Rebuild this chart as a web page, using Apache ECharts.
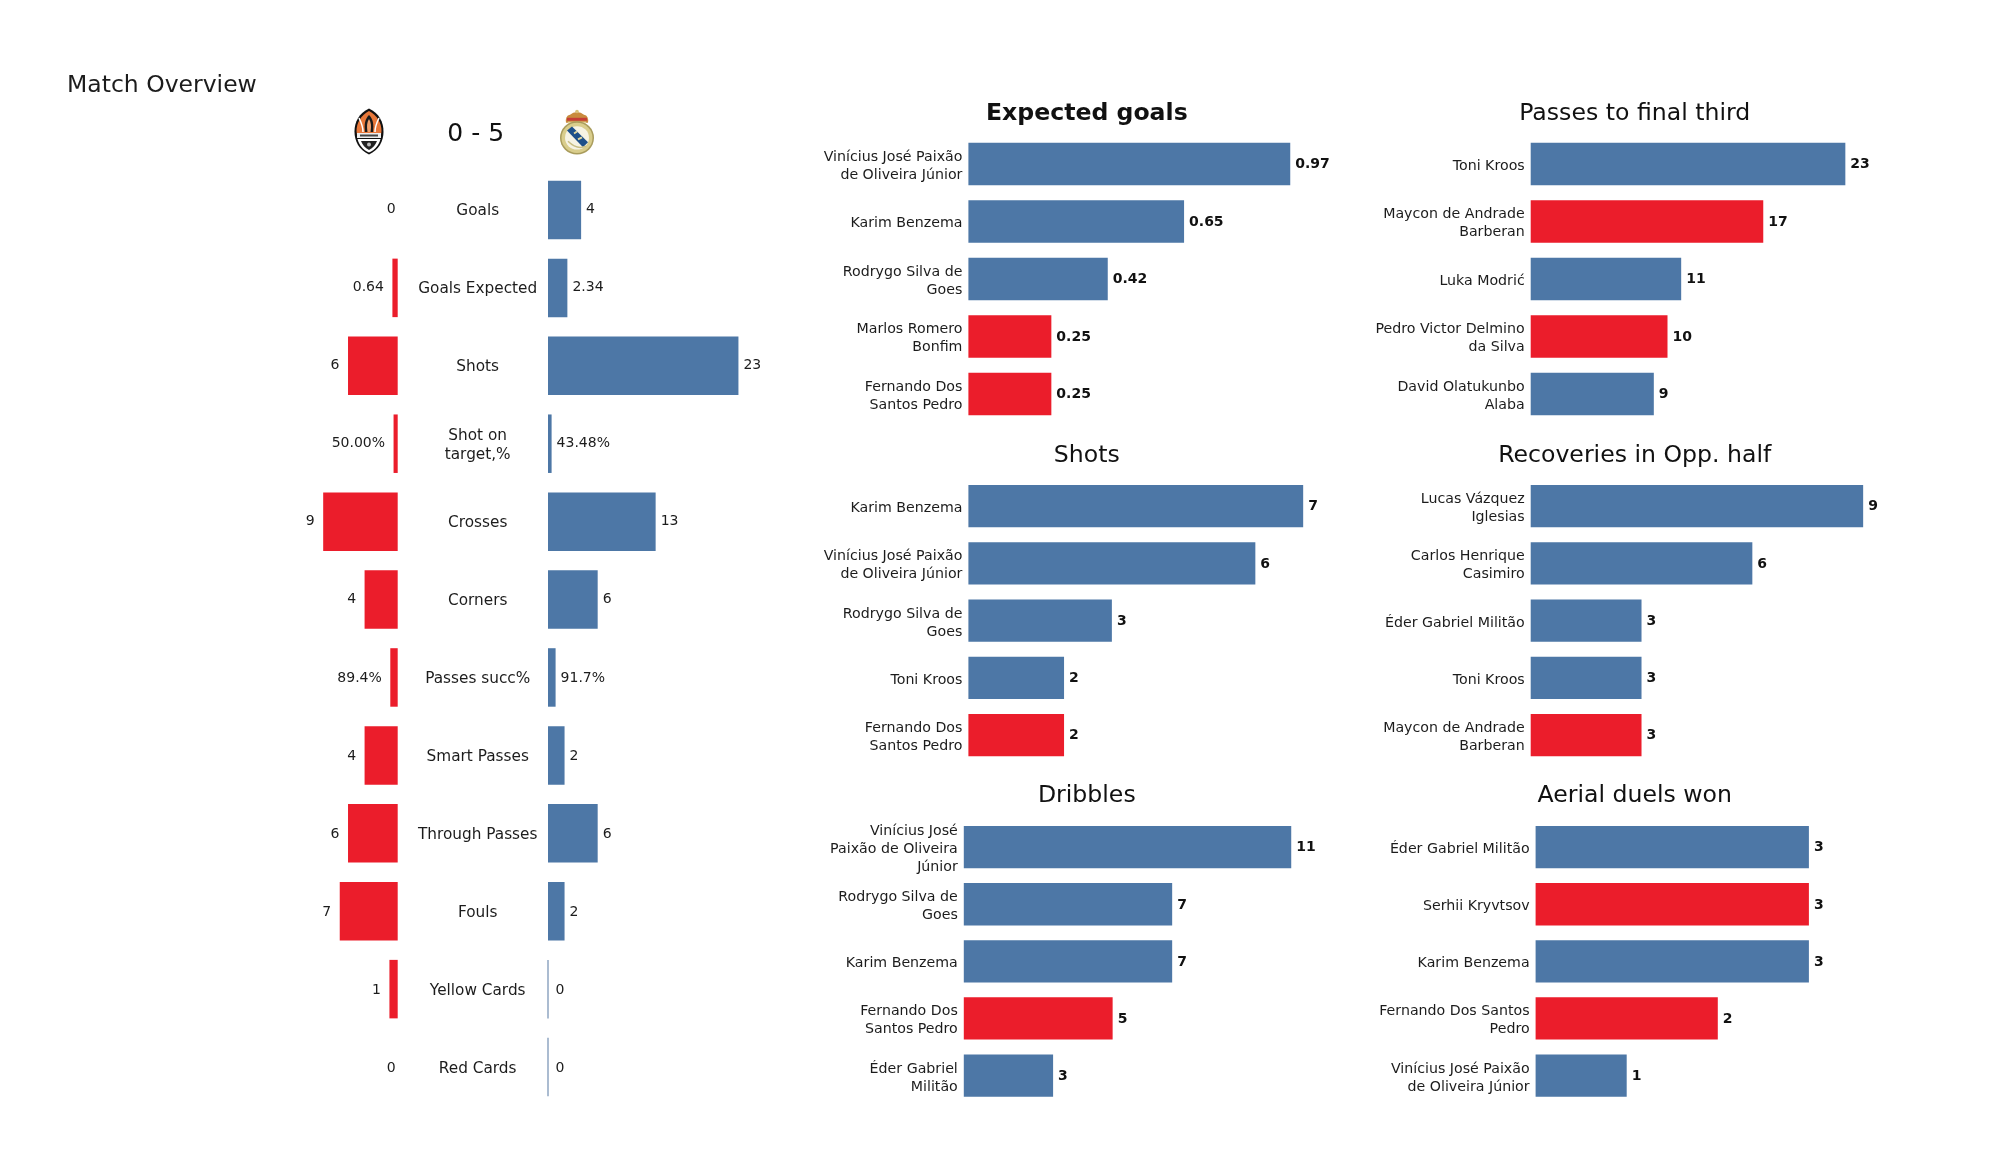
<!DOCTYPE html>
<html>
<head>
<meta charset="utf-8">
<style>html,body{margin:0;padding:0;background:#fff}#c{width:2000px;height:1175px}</style>
<script src="https://cdn.jsdelivr.net/npm/echarts@6/dist/echarts.min.js"></script>
</head>
<body>
<div id="c"></div>
<script>
// ---- data ----
const overviewCategories = ['Goals','Goals Expected','Shots','Shot on\ntarget,%','Crosses','Corners','Passes succ%','Smart Passes','Through Passes','Fouls','Yellow Cards','Red Cards'];
const shakhtarValues = [0,0.64,6,0.5,9,4,0.894,4,6,7,1,0];
const madridValues = [4,2.34,23,0.4348,13,6,0.917,2,6,2,0,0];
const shakhtarLabels = ['0','0.64','6','50.00%','9','4','89.4%','4','6','7','1','0'];
const madridLabels = ['4','2.34','23','43.48%','13','6','91.7%','2','6','2','0','0'];

const xgNames = ['Vinícius José Paixão\nde Oliveira Júnior','Karim Benzema','Rodrygo Silva de\nGoes','Marlos Romero\nBonfim','Fernando Dos\nSantos Pedro'];
const xgValues = [0.97,0.65,0.42,0.25,0.25];
const xgTeams = ['M','M','M','S','S'];

const finalThirdNames = ['Toni Kroos','Maycon de Andrade\nBarberan','Luka Modrić','Pedro Victor Delmino\nda Silva','David Olatukunbo\nAlaba'];
const finalThirdValues = [23,17,11,10,9];
const finalThirdTeams = ['M','S','M','S','M'];

const shotsNames = ['Karim Benzema','Vinícius José Paixão\nde Oliveira Júnior','Rodrygo Silva de\nGoes','Toni Kroos','Fernando Dos\nSantos Pedro'];
const shotsValues = [7,6,3,2,2];
const shotsTeams = ['M','M','M','M','S'];

const recoveryNames = ['Lucas Vázquez\nIglesias','Carlos Henrique\nCasimiro','Éder Gabriel Militão','Toni Kroos','Maycon de Andrade\nBarberan'];
const recoveryValues = [9,6,3,3,3];
const recoveryTeams = ['M','M','M','M','S'];

const dribbleNames = ['Vinícius José\nPaixão de Oliveira\nJúnior','Rodrygo Silva de\nGoes','Karim Benzema','Fernando Dos\nSantos Pedro','Éder Gabriel\nMilitão'];
const dribbleValues = [11,7,7,5,3];
const dribbleTeams = ['M','M','M','S','M'];

const aerialNames = ['Éder Gabriel Militão','Serhii Kryvtsov','Karim Benzema','Fernando Dos Santos\nPedro','Vinícius José Paixão\nde Oliveira Júnior'];
const aerialValues = [3,3,3,2,1];
const aerialTeams = ['M','S','M','S','M'];

// ---- style and layout ----
const RED = '#EB1D2B', BLUE = '#4D77A6', INK = '#1c1c1c', FONT = 'DejaVu Sans';
const teamColor = {S: RED, M: BLUE};

const panels = [
  {title:'Expected goals', bold:true, names:xgNames, values:xgValues, teams:xgTeams, x:968.4, y:135.25, h:287.5, barH:42.6, max:1, w:331.8, tx:1086.8, ty:101.5},
  {title:'Passes to final third', names:finalThirdNames, values:finalThirdValues, teams:finalThirdTeams, x:1530.7, y:135.25, h:287.5, barH:42.6, max:25, w:342, tx:1634.7, ty:101.5},
  {title:'Shots', names:shotsNames, values:shotsValues, teams:shotsTeams, x:968.4, y:477.4, h:286.25, barH:42.2, max:8, w:382.6, tx:1086.8, ty:443.5},
  {title:'Recoveries in Opp. half', names:recoveryNames, values:recoveryValues, teams:recoveryTeams, x:1530.7, y:477.4, h:286.25, barH:42.2, max:10, w:369.4, tx:1634.7, ty:443.5},
  {title:'Dribbles', names:dribbleNames, values:dribbleValues, teams:dribbleTeams, x:963.8, y:818.6, h:285.5, barH:42.3, max:12, w:357.2, tx:1086.8, ty:784},
  {title:'Aerial duels won', names:aerialNames, values:aerialValues, teams:aerialTeams, x:1535.6, y:818.6, h:285.5, barH:42.3, max:4, w:364.4, tx:1634.7, ty:784}
];

const grids = [], xAxes = [], yAxes = [], series = [], titles = [];

function addGrid(left, top, width, height, max, inverse) {
  grids.push({left, top, width, height, containLabel:false});
  xAxes.push({type:'value', gridIndex:grids.length-1, min:0, max, inverse:!!inverse, show:false});
  return grids.length-1;
}

const ovTop = 171, ovH = 935, ovBar = 58.5, ovScale = 8.28;
const valueOffset = i => [0, -0.3 + 0.12*i];

// overview, shakhtar side
const gl = addGrid(397.7-10*ovScale, ovTop, 10*ovScale, ovH, 10, true);
yAxes.push({type:'category', gridIndex:gl, inverse:true, data:overviewCategories, show:false});
series.push({type:'bar', xAxisIndex:gl, yAxisIndex:gl, barWidth:ovBar, silent:true,
  data:shakhtarValues.map((v,i)=>({value:v, itemStyle:{color:RED},
    label:{show:true, position:'left', distance:v===0?2:8.5, offset:valueOffset(i), formatter:shakhtarLabels[i],
      color:INK, fontFamily:FONT, fontSize:14}}))});

// overview, madrid side
const gr = addGrid(548, ovTop, 24*ovScale, ovH, 24);
yAxes.push({type:'category', gridIndex:gr, inverse:true, data:overviewCategories, show:false});
series.push({type:'bar', xAxisIndex:gr, yAxisIndex:gr, barWidth:ovBar, silent:true,
  data:madridValues.map((v,i)=>({value:v,
    itemStyle: v===0 ? {color:'#7490B3', borderColor:'#7490B3', borderWidth:1.2} : {color:BLUE},
    label:{show:true, position:'right', distance:v===0?7:5, offset:valueOffset(i), formatter:madridLabels[i],
      color:INK, fontFamily:FONT, fontSize:14}}))});

// overview, centre column of category names
const gc = addGrid(315, 172, 82.7, 936.4, 10, true);
yAxes.push({type:'category', gridIndex:gc, inverse:true, data:overviewCategories, position:'right',
  axisLine:{show:false,onZero:false}, axisTick:{show:false}, splitLine:{show:false},
  axisLabel:{interval:0, align:'center', margin:80, color:INK, fontFamily:FONT, fontSize:15.3, lineHeight:19}});

// six player panels: one grid for the bars, one slightly lower for the names
panels.forEach(p=>{
  const g = addGrid(p.x, p.y, p.w, p.h, p.max);
  yAxes.push({type:'category', gridIndex:g, inverse:true, data:p.names, show:false});
  series.push({type:'bar', xAxisIndex:g, yAxisIndex:g, barWidth:p.barH, silent:true,
    data:p.values.map((v,i)=>({value:v, itemStyle:{color:teamColor[p.teams[i]]}})),
    label:{show:true, position:'right', distance:5, offset:[0,0.7], color:'#111', fontFamily:FONT, fontSize:14, fontWeight:'bold'}});
  const n = addGrid(p.x, p.y+2.3, p.w, p.h, p.max);
  yAxes.push({type:'category', gridIndex:n, inverse:true, data:p.names,
    axisLine:{show:false}, axisTick:{show:false}, splitLine:{show:false},
    axisLabel:{interval:0, margin:6, align:'right', color:INK, fontFamily:FONT, fontSize:14.2, lineHeight:18}});
  titles.push({text:p.title, left:p.tx, top:p.ty, textAlign:'center', padding:0,
    textStyle:{color:'#111', fontFamily:FONT, fontSize:23.6, fontWeight:p.bold?'bold':'normal'}});
});

titles.push({text:'Match Overview', left:67, top:74, padding:0,
  textStyle:{color:INK, fontFamily:FONT, fontSize:23.5, fontWeight:'normal'}});
titles.push({text:'0 - 5', left:475.7, top:121.5, textAlign:'center', padding:0,
  textStyle:{color:'#111', fontFamily:FONT, fontSize:25, fontWeight:'normal'}});

// team badges, decorative
const shakhtarBadge = `<svg xmlns="http://www.w3.org/2000/svg" viewBox="0 0 30 47">
<path d="M15 .5C25 5 29.5 14 29.5 23.5S25 42 15 46.5C5 42 .5 33 .5 23.5S5 5 15 .5Z" fill="#111"/>
<path d="M15 3C23 7 27.5 15 27.5 23L27 27H3L2.500 23C2.500 15 7 7 15 3Z" fill="#E8783A"/>
<path d="M15 7C19 11 20 16 19 24H11C10 16 11 11 15 7Z" fill="#1a1a1a"/>
<path d="M15 11C17 14 17.500 18 16.500 24H13.500C12.500 18 13 14 15 11Z" fill="#F3A06B"/>
<path d="M5 10Q9 18 9 24M25 10Q21 18 21 24" stroke="#fff" stroke-width="1.500" fill="none"/>
<rect x="3" y="25" width="24" height="5" fill="#EDEDED"/>
<rect x="6" y="26.500" width="18" height="2" fill="#444"/>
<path d="M3.500 31H26.500C25 37 21 42 15 44.500C9 42 5 37 3.500 31Z" fill="#fff"/>
<path d="M7 33H23C21.500 37 19 40 15 42C11 40 8.500 37 7 33Z" fill="#222"/>
<circle cx="15" cy="36.500" r="2" fill="#bbb"/>
</svg>`;
const madridBadge = `<svg xmlns="http://www.w3.org/2000/svg" viewBox="0 0 36 47">
<path d="M7 14Q6 7 11 6Q14 3 18 3Q22 3 25 6Q30 7 29 14Z" fill="#C98B3E"/>
<circle cx="18" cy="2.500" r="1.800" fill="#D9C27A"/>
<path d="M8 9H28V12H8Z" fill="#C63D37"/>
<path d="M9 13H27V15H9Z" fill="#E4D59A"/>
<circle cx="18" cy="29.500" r="17" fill="#A99C5C"/>
<circle cx="18" cy="29.500" r="15.500" fill="#D9CD8C"/>
<circle cx="18" cy="29.500" r="12" fill="#F6F3E4"/>
<path d="M8 22L13 18L29 34L24 39Z" fill="#1E5089"/>
<path d="M15 25L18 23M19 31L23 29" stroke="#E2D89F" stroke-width="2"/>
<path d="M9 33Q18 42 27 38" stroke="#C9BE84" stroke-width="1.500" fill="none"/>
</svg>`;
const svgUri = s => 'data:image/svg+xml;charset=utf-8,' + encodeURIComponent(s);

const chart = echarts.init(document.getElementById('c'), null, {renderer:'canvas', width:2000, height:1175});
chart.setOption({
  animation:false,
  backgroundColor:'#fff',
  textStyle:{fontFamily:FONT},
  title:titles,
  grid:grids, xAxis:xAxes, yAxis:yAxes, series,
  tooltip:{show:false}, legend:{show:false},
  graphic:[
    {type:'image', left:354, top:108, silent:true, style:{image:svgUri(shakhtarBadge), width:30, height:47}},
    {type:'image', left:559, top:109, silent:true, style:{image:svgUri(madridBadge), width:36, height:46}}
  ]
});
</script>
</body>
</html>
